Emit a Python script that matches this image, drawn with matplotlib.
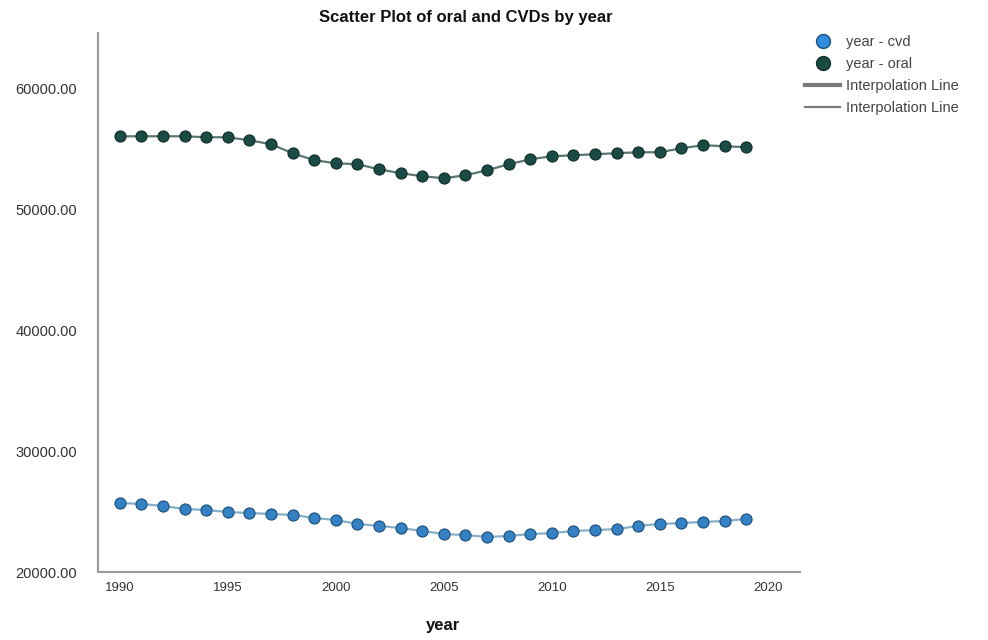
import matplotlib
matplotlib.use("Agg")
import matplotlib.pyplot as plt
from matplotlib.lines import Line2D
from matplotlib.ticker import FormatStrFormatter

plt.rcParams['font.family'] = ['Liberation Sans', 'DejaVu Sans']

# data
years = list(range(1990, 2020))
oral = [56030, 56030, 56030, 56030, 55950, 55950, 55700, 55375, 54630, 54050,
        53800, 53720, 53300, 52980, 52730, 52560, 52810, 53220, 53720, 54130,
        54380, 54460, 54550, 54630, 54710, 54710, 55040, 55290, 55210, 55130]
cvd = [25720, 25640, 25470, 25220, 25140, 24970, 24890, 24810, 24730, 24480,
       24310, 23980, 23820, 23650, 23400, 23150, 23070, 22910, 22990, 23150,
       23230, 23400, 23480, 23560, 23820, 23980, 24060, 24150, 24230, 24400]
y_ticks = [20000, 30000, 40000, 50000, 60000]
x_ticks = [1990, 1995, 2000, 2005, 2010, 2015, 2020]

cvd_color = '#3481c4'
oral_color = '#1b4b45'

fig = plt.figure(figsize=(9.88, 6.4), dpi=100)
ax = fig.add_axes([0.099, 0.106, 0.711, 0.842])

# interpolation lines
ax.plot(years, cvd, color='#86aec6', linewidth=1.6, zorder=2)
ax.plot(years, oral, color='#5a7672', linewidth=1.6, zorder=2)

# the points
ax.plot(years, cvd, 'o', markersize=8, markerfacecolor=cvd_color,
        markeredgecolor='#1c4f7a', markeredgewidth=0.8, linestyle='none', zorder=3)
ax.plot(years, oral, 'o', markersize=8, markerfacecolor=oral_color,
        markeredgecolor='#0f2e2a', markeredgewidth=0.8, linestyle='none', zorder=3)

ax.set_xlim(1988.98, 2021.5)
ax.set_ylim(20000, 64545)
ax.set_xticks(x_ticks)
ax.set_yticks(y_ticks)
ax.yaxis.set_major_formatter(FormatStrFormatter('%.2f'))

for side in ['top', 'right']:
    ax.spines[side].set_visible(False)
for side in ['left', 'bottom']:
    ax.spines[side].set_color('#9a9a9a')
    ax.spines[side].set_linewidth(1.5)

ax.tick_params(axis='both', length=0, colors='#333333')
ax.tick_params(axis='y', pad=15, labelsize=10.5)
ax.tick_params(axis='x', pad=7, labelsize=9.5)

# title and axis label
fig.text(0.471, 0.972, 'Scatter Plot of oral and CVDs by year', ha='center',
         va='center', fontsize=12, fontweight='bold', color='#111111')
fig.text(0.448, 0.023, 'year', ha='center', va='center', fontsize=12,
         fontweight='bold', color='#111111')

# legend outside on the right
handles = [
    Line2D([], [], marker='o', linestyle='none', markersize=10,
           markerfacecolor='#2f8ee0', markeredgecolor='#1c4f7a'),
    Line2D([], [], marker='o', linestyle='none', markersize=10,
           markerfacecolor=oral_color, markeredgecolor='#0f2e2a'),
    Line2D([], [], color='#7a7a7a', linewidth=3),
    Line2D([], [], color='#7a7a7a', linewidth=1.6),
]
labels = ['year - cvd', 'year - oral', 'Interpolation Line', 'Interpolation Line']
fig.legend(handles, labels, loc='upper left', bbox_to_anchor=(0.815, 0.945),
           frameon=False, fontsize=10.5, handlelength=2.4, handletextpad=0.4,
           labelspacing=0.55, borderaxespad=0, borderpad=0, labelcolor='#444444')

fig.savefig('out.png', dpi=100)
